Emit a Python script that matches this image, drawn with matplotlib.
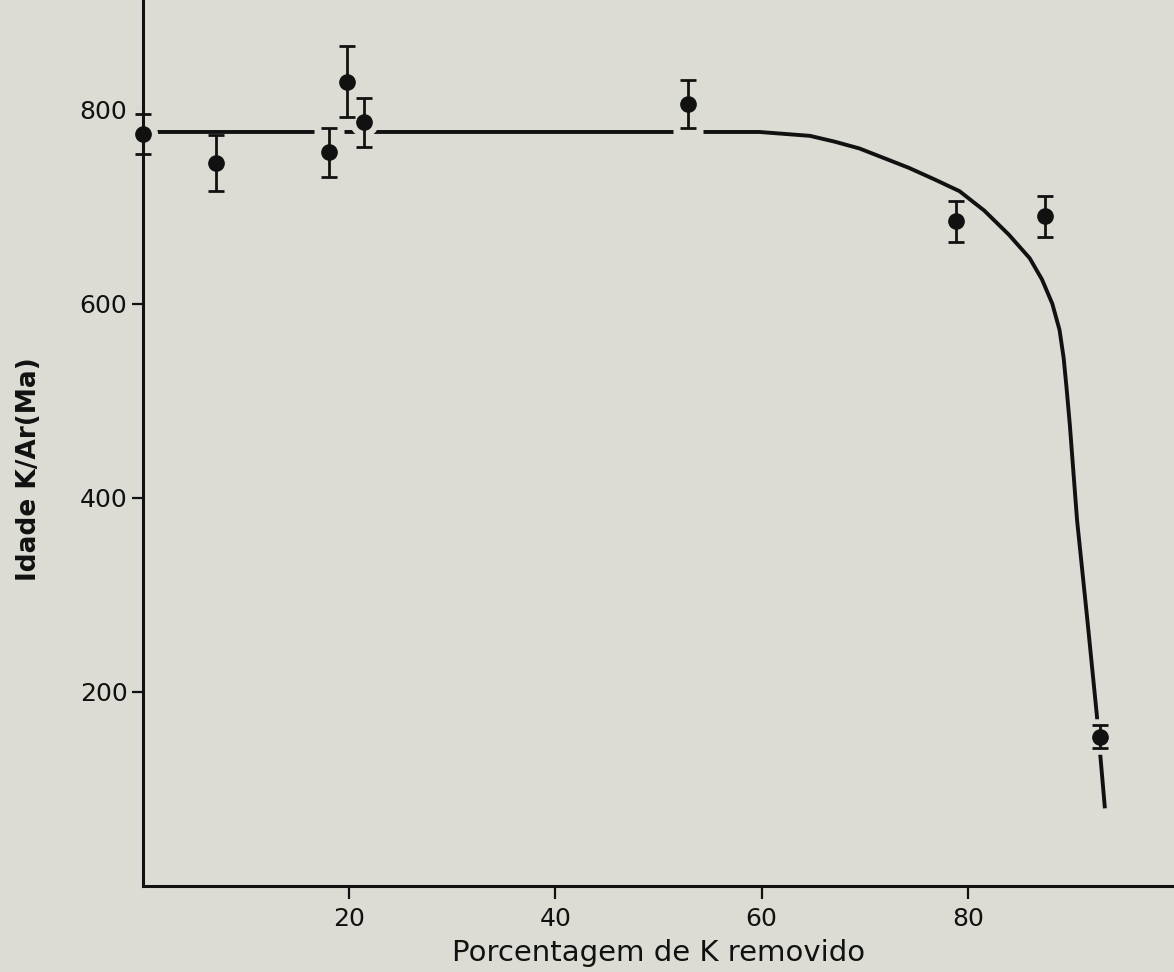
import numpy as np
import matplotlib.pyplot as plt

# dados
pct_removido = [0.0, 7.1, 18.1, 19.8, 21.5, 52.9, 78.9, 87.5, 92.8]
idade = [775, 745, 756, 829, 787, 806, 685, 690, 154]
erro = [21, 29, 25, 37, 25, 25, 21, 21, 12]

# curva desenhada a mao (pontos lidos ao longo do traco)
curva_x = [0.0, 55.0, 59.8, 64.7, 67.1, 69.5, 71.9, 74.3, 76.8, 79.2, 81.6, 84.0,
           86.0, 87.2, 88.2, 88.9, 89.3, 89.6, 89.9, 90.6, 91.6, 92.5, 93.3]
curva_y = [777, 777, 777, 773, 767, 760, 750, 740, 728, 716, 696, 671,
           647, 625, 600, 573, 544, 511, 475, 377, 274, 178, 80]

x_ticks = [20, 40, 60, 80]
y_ticks = [200, 400, 600, 800]

# pontos onde a curva foi interrompida no desenho original
com_corte = [0, 2, 4, 5, 8]

fundo = '#dcdcd5'
tinta = '#111111'

fig = plt.figure(figsize=(11.74, 9.72), dpi=100)
fig.patch.set_facecolor(fundo)
ax = fig.add_axes([0.1216, 0.0885, 0.8784, 0.9115])
ax.set_facecolor(fundo)

ax.plot(curva_x, curva_y, color=tinta, lw=2.8, solid_capstyle='butt',
        solid_joinstyle='round', zorder=2)

# "halo" da cor do fundo, para a curva ficar cortada em volta desses pontos
hx = [pct_removido[i] for i in com_corte]
hy = [idade[i] for i in com_corte]
he = [erro[i] for i in com_corte]
halo = ax.errorbar(hx, hy, yerr=he, fmt='o', color=fundo,
                   ms=20, capsize=11, capthick=9, elinewidth=9, zorder=2.5)
pts = ax.errorbar(pct_removido, idade, yerr=erro, fmt='o', color=tinta,
                  ms=11, capsize=6, capthick=2, elinewidth=2, zorder=3)
for eb in [halo, pts]:
    eb[0].set_clip_on(False)
    for cap in eb[1]:
        cap.set_clip_on(False)
    for bar in eb[2]:
        bar.set_clip_on(False)

ax.set_xlim(0, 100)
ax.set_ylim(0, 913)
ax.set_xticks(x_ticks)
ax.set_yticks(y_ticks)

for s in ['top', 'right']:
    ax.spines[s].set_visible(False)
for s in ['left', 'bottom']:
    ax.spines[s].set_linewidth(2.2)
    ax.spines[s].set_color(tinta)
    ax.spines[s].set_zorder(4)

ax.tick_params(axis='x', length=9, width=1.6, colors=tinta, labelsize=18, pad=6)
ax.tick_params(axis='y', length=8, width=1.6, colors=tinta, labelsize=18, pad=3)

ax.set_xlabel('Porcentagem de K removido', fontsize=21, color=tinta, labelpad=6)
ax.set_ylabel('Idade K/Ar(Ma)', fontsize=19, fontweight='bold', color=tinta)
ax.yaxis.set_label_coords(-0.098, 0.47)

plt.savefig('out.png', dpi=100, facecolor=fundo)
